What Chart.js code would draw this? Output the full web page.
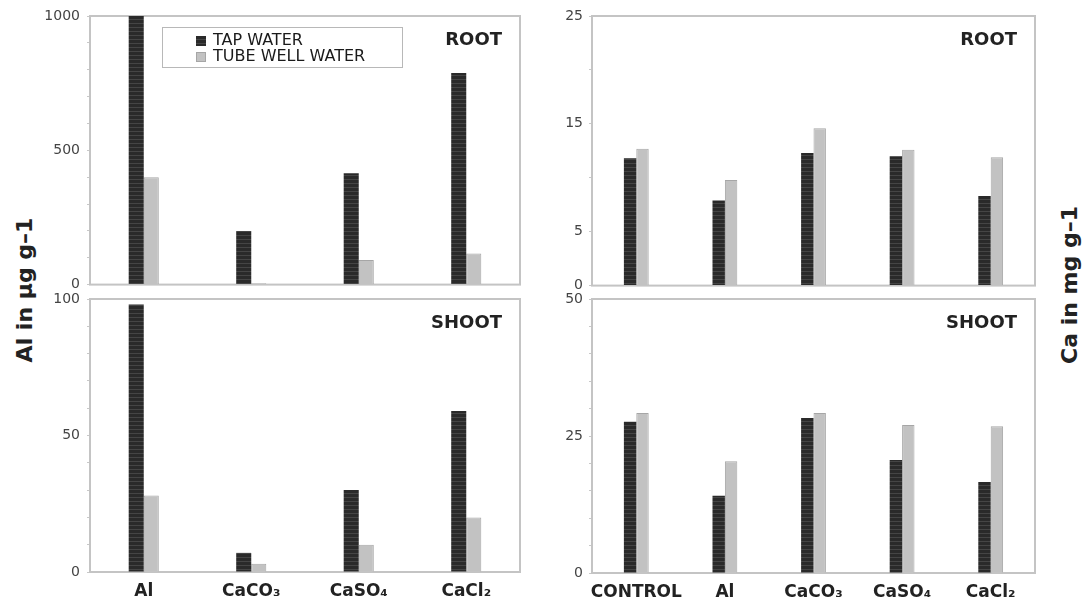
<!DOCTYPE html>
<html>
<head>
<meta charset="utf-8">
<script src="https://cdn.jsdelivr.net/npm/chart.js@4.4.0/dist/chart.umd.min.js"></script>
<style>
  body { margin: 0; width: 1087px; height: 601px; background: #fff; position: relative; overflow: hidden; font-family: "DejaVu Sans", sans-serif; }
  canvas { position: absolute; }
  .ytitle { position: absolute; font-weight: bold; font-size: 22px; color: #222; white-space: nowrap; transform: translate(-50%, -50%) rotate(-90deg); }
</style>
</head>
<body>
<div class="ytitle" style="left:24px; top:290px;">Al in µg g–1</div>
<div class="ytitle" style="left:1069px; top:285px;">Ca in mg g–1</div>
<canvas id="alRoot" width="530" height="300" style="left:0; top:0;"></canvas>
<canvas id="alShoot" width="530" height="331" style="left:0; top:270px;"></canvas>
<canvas id="caRoot" width="557" height="300" style="left:530px; top:0;"></canvas>
<canvas id="caShoot" width="557" height="331" style="left:530px; top:270px;"></canvas>
<script>
// values
const alCategories = ['Al', 'CaCO₃', 'CaSO₄', 'CaCl₂'];
const caCategories = ['CONTROL', 'Al', 'CaCO₃', 'CaSO₄', 'CaCl₂'];
const seriesNames = ['TAP WATER', 'TUBE WELL WATER'];

const alRootTap = [1000, 200, 415, 788];
const alRootTube = [400, 5, 92, 116];
const alShootTap = [98, 7, 30, 59];
const alShootTube = [28, 3, 10, 20];

const caRootTap = [11.8, 7.9, 12.3, 12.0, 8.3];
const caRootTube = [12.7, 9.8, 14.6, 12.6, 11.9];
const caShootTap = [27.6, 14.1, 28.3, 20.6, 16.6];
const caShootTube = [29.2, 20.4, 29.2, 27.0, 26.8];

const alRootLabels = [0, 500, 1000];
const alShootLabels = [0, 50, 100];
const caRootLabels = [0, 5, 15, 25];
const caShootLabels = [0, 25, 50];

const FONT = '"DejaVu Sans", sans-serif';

function stripes(ctx) {
    var c = document.createElement('canvas');
    c.width = 4; c.height = 4;
    var g = c.getContext('2d');
    g.fillStyle = '#2a2a2a'; g.fillRect(0, 0, 4, 4);
    g.fillStyle = '#454545'; g.fillRect(0, 3, 4, 1);
    return ctx.createPattern(c, 'repeat');
}

// grey box round the plot area
const frame = {
    id: 'frame',
    beforeDatasetsDraw(chart) {
        var a = chart.chartArea, ctx = chart.ctx;
        ctx.save();
        ctx.strokeStyle = '#c4c4c4';
        ctx.lineWidth = 2;
        ctx.strokeRect(a.left, a.top, a.right - a.left, a.bottom - a.top);
        ctx.restore();
    }
};

// ROOT / SHOOT tag in the corner
const tag = {
    id: 'tag',
    afterDraw(chart, args, o) {
        var a = chart.chartArea, ctx = chart.ctx;
        ctx.save();
        ctx.font = 'bold 18px ' + FONT;
        ctx.fillStyle = '#222';
        ctx.textAlign = 'right';
        ctx.textBaseline = 'middle';
        ctx.fillText(o.text, a.right - 18, a.top + 24);
        ctx.restore();
    }
};

// boxed legend inside the first panel
const boxLegend = {
    id: 'boxLegend',
    afterDraw(chart, args, o) {
        if (!o.show) return;
        var a = chart.chartArea, ctx = chart.ctx;
        var x = a.left + 72, y = a.top + 11;
        ctx.save();
        ctx.strokeStyle = '#b8b8b8';
        ctx.lineWidth = 1;
        ctx.strokeRect(x + 0.5, y + 0.5, 240, 40);
        ctx.font = '16px ' + FONT;
        ctx.textBaseline = 'middle';
        chart.data.datasets.forEach((ds, i) => {
            var ry = y + 14 + i * 16;
            ctx.fillStyle = ds.backgroundColor;
            ctx.fillRect(x + 34, ry - 5, 10, 10);
            if (ds.borderWidth) {
                ctx.strokeStyle = ds.borderColor;
                ctx.strokeRect(x + 34.5, ry - 4.5, 9, 9);
            }
            ctx.fillStyle = '#1a1a1a';
            ctx.fillText(ds.label, x + 51, ry);
        });
        ctx.restore();
    }
};

function makeChart(id, cats, tap, tube, opt) {
    var ctx = document.getElementById(id).getContext('2d');
    return new Chart(ctx, {
        type: 'bar',
        data: {
            labels: cats,
            datasets: [
                { label: seriesNames[0], data: tap, backgroundColor: stripes(ctx), borderWidth: 0 },
                { label: seriesNames[1], data: tube, backgroundColor: '#c2c2c2', borderColor: '#a6a6a6', borderWidth: 1 }
            ]
        },
        options: {
            responsive: false,
            animation: false,
            layout: { padding: opt.padding },
            datasets: { bar: { categoryPercentage: 0.28, barPercentage: 1 } },
            plugins: {
                legend: { display: false },
                tooltip: { enabled: false },
                tag: { text: opt.tag },
                boxLegend: { show: !!opt.legend }
            },
            scales: {
                x: {
                    display: opt.showX,
                    grid: { display: false, drawTicks: false },
                    border: { display: false },
                    ticks: {
                        padding: 9, autoSkip: false, maxRotation: 0, minRotation: 0,
                        color: '#222', font: { family: FONT, size: 17, weight: 'bold' }
                    },
                    afterFit: s => { s.height = opt.xHeight; }
                },
                y: {
                    min: 0,
                    max: opt.max,
                    grid: { drawOnChartArea: false, tickLength: 3, color: '#c8c8c8' },
                    border: { display: false },
                    ticks: {
                        stepSize: opt.step,
                        padding: opt.tickPad,
                        color: '#444',
                        font: { family: FONT, size: 14 },
                        callback: v => opt.labels.includes(v) ? String(v) : ''
                    },
                    afterFit: s => { s.width = opt.yWidth; }
                }
            }
        },
        plugins: [frame, tag, boxLegend]
    });
}

makeChart('alRoot', alCategories, alRootTap, alRootTube, {
    padding: { top: 16, right: 10, bottom: 10, left: 0 },
    showX: false, xHeight: 0, yWidth: 90, tickPad: 7,
    max: 1000, step: 100, labels: alRootLabels, tag: 'ROOT', legend: true
});
makeChart('alShoot', alCategories, alShootTap, alShootTube, {
    padding: { top: 29, right: 10, bottom: 0, left: 0 },
    showX: true, xHeight: 29, yWidth: 90, tickPad: 7,
    max: 100, step: 10, labels: alShootLabels, tag: 'SHOOT'
});
makeChart('caRoot', caCategories, caRootTap, caRootTube, {
    padding: { top: 16, right: 52, bottom: 11, left: 0 },
    showX: false, xHeight: 0, yWidth: 62, tickPad: 6,
    max: 25, step: 5, labels: caRootLabels, tag: 'ROOT'
});
makeChart('caShoot', caCategories, caShootTap, caShootTube, {
    padding: { top: 29, right: 52, bottom: 0, left: 0 },
    showX: true, xHeight: 28, yWidth: 62, tickPad: 6,
    max: 50, step: 5, labels: caShootLabels, tag: 'SHOOT'
});
</script>
</body>
</html>
